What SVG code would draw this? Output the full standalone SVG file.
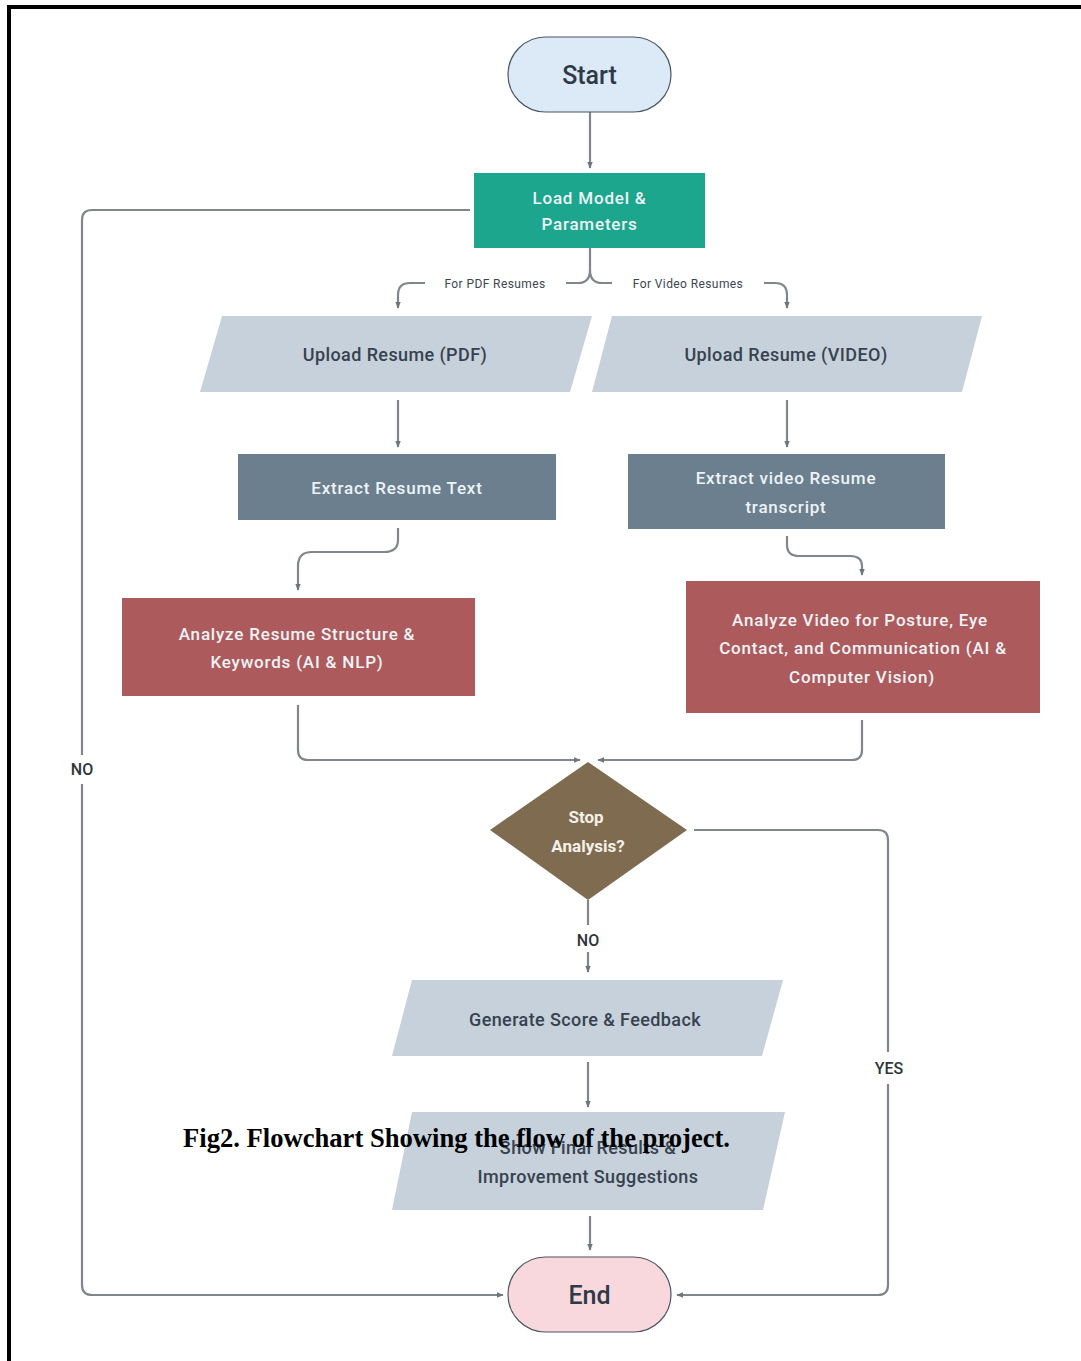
<svg xmlns="http://www.w3.org/2000/svg" width="1081" height="1361" viewBox="0 0 1081 1361">
<defs>
<marker id="arr" viewBox="0 0 10 10" refX="9" refY="5" markerWidth="7" markerHeight="7" orient="auto-start-reverse" markerUnits="userSpaceOnUse">
<path d="M0 1 L10 5 L0 9 Z" fill="#6f757c"/>
</marker>
<style>
.c{fill:none;stroke:#80868c;stroke-width:2.2}
.t{font-family:Roboto,"Liberation Sans",sans-serif;text-anchor:middle}
.term{stroke:#4a5563;stroke-width:1.2}
.dark{fill:#36424f;font-size:18px;font-weight:500;letter-spacing:0.4px}
.lt{fill:#eef3f6;font-size:17px;font-weight:500;letter-spacing:0.8px}
.lbl{fill:#3d4650;font-size:12px;letter-spacing:0.4px}
.yn{fill:#2f353b;font-size:16px;font-weight:500}
.para{fill:#c6d1db}
.cap{font-family:"Liberation Serif","Times New Roman",serif;font-weight:bold;font-size:27px;fill:#000}
</style>
</defs>
<rect x="0" y="0" width="1081" height="1361" fill="#ffffff"/>
<path d="M9 1361 V7 H1081" fill="none" stroke="#000" stroke-width="4"/>

<g id="connectors">
<path class="c" d="M590 112 V168" marker-end="url(#arr)"/>
<path class="c" d="M590 248 V270 Q590 283 578 283 H566"/>
<path class="c" d="M590 270 Q590 283 602 283 H612"/>
<path class="c" d="M425 283 H410 Q398 283 398 295 V308" marker-end="url(#arr)"/>
<path class="c" d="M764 283 H775 Q787 283 787 295 V308" marker-end="url(#arr)"/>
<path class="c" d="M398 400 V447" marker-end="url(#arr)"/>
<path class="c" d="M787 400 V447" marker-end="url(#arr)"/>
<path class="c" d="M398 528 V540 Q398 552 384 552 H312 Q298 552 298 566 V590" marker-end="url(#arr)"/>
<path class="c" d="M787 536 V545 Q787 556 799 556 H850 Q862 556 862 566 V575" marker-end="url(#arr)"/>
<path class="c" d="M298 705 V750 Q298 760 308 760 H580" marker-end="url(#arr)"/>
<path class="c" d="M862 720 V750 Q862 760 852 760 H598" marker-end="url(#arr)"/>
<path class="c" d="M588 900 V925"/>
<path class="c" d="M588 952 V972" marker-end="url(#arr)"/>
<path class="c" d="M588 1062 V1107" marker-end="url(#arr)"/>
<path class="c" d="M590 1216 V1250" marker-end="url(#arr)"/>
<path class="c" d="M470 210 H92 Q82 210 82 220 V755"/>
<path class="c" d="M82 784 V1285 Q82 1295 92 1295 H503" marker-end="url(#arr)"/>
<path class="c" d="M694 830 H878 Q888 830 888 840 V1052"/>
<path class="c" d="M888 1084 V1285 Q888 1295 878 1295 H677" marker-end="url(#arr)"/>
<text class="t lbl" x="495" y="288">For PDF Resumes</text>
<text class="t lbl" x="688" y="288">For Video Resumes</text>
<text class="t yn" x="82" y="775">NO</text>
<text class="t yn" x="588" y="946">NO</text>
<text class="t yn" x="889" y="1074">YES</text>
</g>

<g id="start">
<rect class="term" x="508" y="37" width="163" height="75" rx="37.5" fill="#dce9f7"/>
<text class="t" x="589.5" y="84" font-size="25" font-weight="500" fill="#2e3a47">Start</text>
</g>

<g id="load">
<rect x="474" y="173" width="231" height="75" fill="#1ba68d"/>
<text class="t lt" x="589.5" y="204">Load Model &amp;</text>
<text class="t lt" x="589.5" y="230">Parameters</text>
</g>

<g id="upload-pdf">
<polygon class="para" points="222,316 592,316 570,392 200,392"/>
<text class="t dark" x="395" y="361">Upload Resume (PDF)</text>
</g>

<g id="upload-video">
<polygon class="para" points="612,316 982,316 962,392 592,392"/>
<text class="t dark" x="786" y="361">Upload Resume (VIDEO)</text>
</g>

<g id="extract-text">
<rect x="238" y="454" width="318" height="66" fill="#6b7f8f"/>
<text class="t lt" x="397" y="494">Extract Resume Text</text>
</g>

<g id="extract-video">
<rect x="628" y="454" width="317" height="75" fill="#6b7f8f"/>
<text class="t lt" x="786" y="484">Extract video Resume</text>
<text class="t lt" x="786" y="513">transcript</text>
</g>

<g id="analyze-resume">
<rect x="122" y="598" width="353" height="98" fill="#ad5a5c"/>
<text class="t lt" x="297" y="640">Analyze Resume Structure &amp;</text>
<text class="t lt" x="297" y="668">Keywords (AI &amp; NLP)</text>
</g>

<g id="analyze-video">
<rect x="686" y="581" width="354" height="132" fill="#ad5a5c"/>
<text class="t lt" x="860" y="626">Analyze Video for Posture, Eye</text>
<text class="t lt" x="863" y="654">Contact, and Communication (AI &amp;</text>
<text class="t lt" x="862" y="683">Computer Vision)</text>
</g>

<g id="stop">
<polygon points="588,762 687,830 588,900 490,830" fill="#7e6b50"/>
<text class="t" x="586" y="823" font-size="17" font-weight="bold" fill="#f5f1ea">Stop</text>
<text class="t" x="588" y="852" font-size="17" font-weight="bold" fill="#f5f1ea">Analysis?</text>
</g>

<g id="generate">
<polygon class="para" points="412,980 783,980 762,1056 392,1056"/>
<text class="t dark" x="585" y="1026">Generate Score &amp; Feedback</text>
</g>

<g id="show-final">
<polygon class="para" points="412,1112 785,1112 763,1210 392,1210"/>
<text class="t dark" x="588" y="1154">Show Final Results &amp;</text>
<text class="t dark" x="588" y="1183">Improvement Suggestions</text>
</g>

<g id="end">
<rect class="term" x="508" y="1257" width="163" height="75" rx="37.5" fill="#f8d7dd"/>
<text class="t" x="589.5" y="1304" font-size="25" font-weight="500" fill="#2e3a47">End</text>
</g>

<text class="cap" x="183" y="1147" textLength="547" lengthAdjust="spacingAndGlyphs">Fig2. Flowchart Showing the flow of the project.</text>
</svg>
